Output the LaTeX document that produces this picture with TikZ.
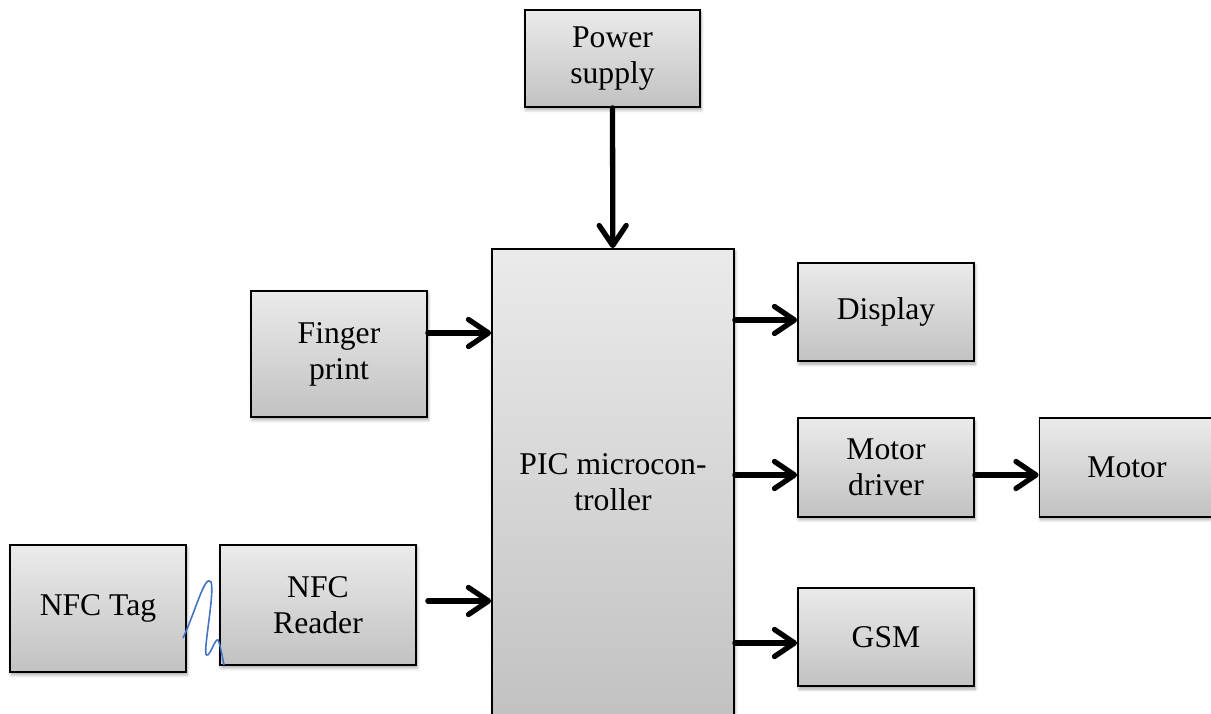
\documentclass[tikz,border=0pt]{standalone}
\usepackage{fontspec}
\setmainfont{Liberation Serif}
\usetikzlibrary{arrows.meta,shadows.blur}
\tikzset{
  bdblock/.style={rectangle, draw, line width=1pt, top color=gray!16,
                  bottom color=gray!48, align=center, inner sep=2pt,
                  font=\fontsize{18}{20.5}\selectfont,
                  blur shadow={shadow xshift=0.6pt, shadow yshift=-1.6pt,
                               shadow blur steps=6, shadow opacity=35}},
  bdlink/.style={line width=3pt, line cap=round,
                 -{Straight Barb[length=4mm, width=5.4mm, round]}},
  bdwave/.style={draw, line width=0.9pt, color=wireblue}
}
\definecolor{wireblue}{RGB}{68,114,196}

\begin{document}
\begin{tikzpicture}[
    scale=1.0,
    sidebox/.style={bdblock, minimum width=3.52cm, minimum height=1.97cm}
]
  \useasboundingbox (0,0) rectangle (24.22,14.26);
  \node[bdblock, minimum width=3.5cm, minimum height=1.94cm] (power) at (12.25,13.09) {Power\\supply};
  \node[bdblock, minimum width=4.84cm, minimum height=9.34cm] (pic) at (12.26,4.61) {PIC microcon-\\troller};
  \node[bdblock, minimum width=3.52cm, minimum height=2.52cm] (finger) at (6.78,7.18) {Finger\\print};
  \node[bdblock, minimum width=3.52cm, minimum height=2.54cm] (tag) at (1.96,2.09) {NFC Tag};
  \node[bdblock, minimum width=3.92cm, minimum height=2.4cm] (reader) at (6.36,2.16) {NFC\\Reader};
  \node[sidebox] (display) at (17.72,8.02) {Display};
  \node[sidebox] (driver) at (17.72,4.91) {Motor\\driver};
  \node[sidebox, minimum width=3.5cm] (motor) at (22.54,4.91) {Motor};
  \node[sidebox] (gsm) at (17.72,1.52) {GSM};
  \draw[bdlink] (power) -- (pic);
  \draw[bdlink] ([yshift=0.42cm]finger.east) -- ([yshift=0.42cm]finger.east -| pic.west);
  \draw[bdlink] ([xshift=0.22cm,yshift=0.08cm]reader.east) -- ([yshift=0.08cm]reader.east -| pic.west);
  \draw[bdlink] ([yshift=-0.16cm]display.west -| pic.east) -- ([yshift=-0.16cm]display.west);
  \draw[bdlink] ([yshift=-0.15cm]driver.west -| pic.east) -- ([yshift=-0.15cm]driver.west);
  \draw[bdlink] ([yshift=-0.15cm]driver.east) -- ([yshift=-0.15cm]motor.west);
  \draw[bdlink] ([yshift=-0.12cm]gsm.west -| pic.east) -- ([yshift=-0.12cm]gsm.west);
  \draw[bdwave] (3.66,1.5) .. controls (3.9,2.0) and (4.1,2.8) .. (4.22,2.62)
    .. controls (4.3,2.4) and (4.05,1.2) .. (4.13,1.16)
    .. controls (4.2,1.12) and (4.3,1.5) .. (4.36,1.46)
    .. controls (4.4,1.4) and (4.45,1.1) .. (4.48,0.96);
\end{tikzpicture}
\end{document}
